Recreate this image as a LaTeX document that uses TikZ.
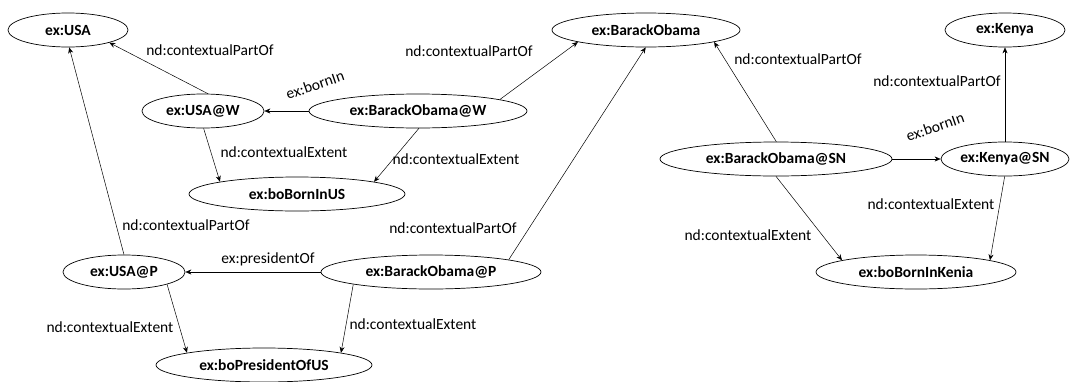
\documentclass[tikz,border=0pt]{standalone}
\usepackage{fontspec}
\setmainfont{Carlito}
\usetikzlibrary{shapes.geometric,arrows.meta}
\begin{document}
\begin{tikzpicture}[x=1pt,y=-1pt,
  ent/.style={ellipse, draw, line width=0.7pt, inner sep=0pt, minimum height=34pt,
    font=\fontsize{15.5}{18}\selectfont\bfseries},
  rel/.style={-{Stealth[length=6pt,width=5pt]}, line width=0.5pt},
  lab/.style={font=\fontsize{15.5}{18}\selectfont, inner sep=0pt}]
\useasboundingbox (0,0) rectangle (1072,381);
% entities
\node[ent, minimum width=120pt] (usa)  at (68,30)   {ex:USA};
\node[ent, minimum width=122pt] (usaw) at (203,111) {ex:USA@W};
\node[ent, minimum width=218pt] (bow)  at (418,111) {ex:BarackObama@W};
\node[ent, minimum width=216pt] (bbus) at (297,194) {ex:boBornInUS};
\node[ent, minimum width=122pt] (usap) at (124,272) {ex:USA@P};
\node[ent, minimum width=220pt] (bop)  at (431,272) {ex:BarackObama@P};
\node[ent, minimum width=216pt] (bpus) at (264,365) {ex:boPresidentOfUS};
\node[ent, minimum width=188pt] (bo)   at (646,30)  {ex:BarackObama};
\node[ent, minimum width=120pt] (ke)   at (1005,30) {ex:Kenya};
\node[ent, minimum width=232pt] (bosn) at (776,159) {ex:BarackObama@SN};
\node[ent, minimum width=128pt] (kesn) at (1005,159){ex:Kenya@SN};
\node[ent, minimum width=200pt] (bbk)  at (916,272) {ex:boBornInKenia};
% connectors
\draw[rel] (usaw.74)   -- (usa.-17);
\draw[rel] (bow.west)  -- (usaw.east);
\draw[rel] (bow.8)     -- (bo.190);
\draw[rel] (usaw.-88)  -- (bbus.171);
\draw[rel] (bow.-87)   -- (bbus.9);
\draw[rel] (usap.90)   -- (usa.-86);
\draw[rel] (bop.west)  -- (usap.east);
\draw[rel] (bop.9)     -- (bo.-91);
\draw[rel] (usap.-16)  -- (bpus.171);
\draw[rel] (bop.189)   -- (bpus.9);
\draw[rel] (bosn.89)   -- (bo.-10);
\draw[rel] (bosn.east) -- (kesn.west);
\draw[rel] (kesn.north)-- (ke.south);
\draw[rel] (bosn.-90)  -- (bbk.171);
\draw[rel] (kesn.-91)  -- (bbk.9);
% labels
\node[lab] (l1)  at (210,50)  {nd:contextualPartOf};
\node[lab, rotate=19] (l2) at (315,85) {ex:bornIn};
\node[lab] (l3)  at (469,51)  {nd:contextualPartOf};
\node[lab] (l4)  at (284,152) {nd:contextualExtent};
\node[lab] (l5)  at (456,159) {nd:contextualExtent};
\node[lab] (l6)  at (186,225) {nd:contextualPartOf};
\node[lab] (l7)  at (453,228) {nd:contextualPartOf};
\node[lab] (l8)  at (268,259) {ex:presidentOf};
\node[lab] (l9)  at (110,327) {nd:contextualExtent};
\node[lab] (l10) at (413,324) {nd:contextualExtent};
\node[lab] (l11) at (798,59)  {nd:contextualPartOf};
\node[lab] (l12) at (937,81)  {nd:contextualPartOf};
\node[lab, rotate=19] (l13) at (935,127) {ex:bornIn};
\node[lab] (l14) at (931,204) {nd:contextualExtent};
\node[lab] (l15) at (748,235) {nd:contextualExtent};
\end{tikzpicture}
\end{document}
